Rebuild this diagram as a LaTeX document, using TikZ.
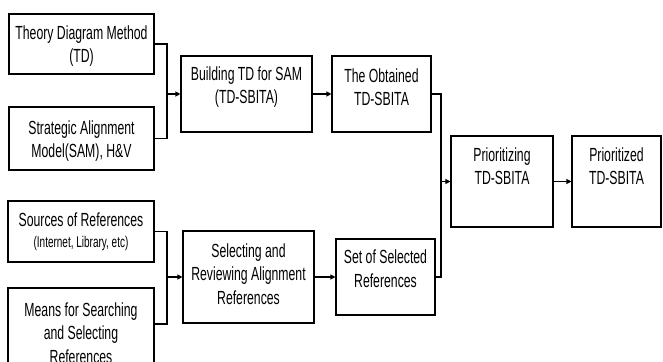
\documentclass[tikz,border=0pt]{standalone}
\usepackage{fontspec}
\setmainfont{Liberation Sans}[FakeStretch=0.645]
\usetikzlibrary{arrows.meta}
\begin{document}
\begin{tikzpicture}[x=1pt,y=-1pt,
  box/.style={draw, line width=1.1pt, inner sep=0pt},
  txt/.style={align=center, inner sep=0pt, font=\fontsize{19}{23.5}\selectfont},
  small/.style={font=\fontsize{15.5}{17}\selectfont},
  conn/.style={line width=1.1pt},
  arr/.style={line width=1.1pt, -{Triangle[length=5pt,width=5pt]}}]
\useasboundingbox (0,0) rectangle (663,361);
\clip (0,0) rectangle (663,361);
% boxes
\node[box, minimum width=145pt, minimum height=60pt] (A) at (81.5,44) {};
\node[box, minimum width=145pt, minimum height=63pt] (B) at (81.5,138.5) {};
\node[box, minimum width=131pt, minimum height=76pt] (C) at (246.5,94) {};
\node[box, minimum width=99pt, minimum height=76pt] (D) at (381.5,94) {};
\node[box, minimum width=146pt, minimum height=61pt] (E) at (81,231.5) {};
\node[box, minimum width=146pt, minimum height=92pt] (F) at (81,334) {};
\node[box, minimum width=131pt, minimum height=92pt] (G) at (248.5,277) {};
\node[box, minimum width=99pt, minimum height=76pt] (H) at (385.5,277) {};
\node[box, minimum width=102pt, minimum height=91pt] (I) at (502,181.5) {};
\node[box, minimum width=89pt, minimum height=91pt] (J) at (616.5,181.5) {};
% texts
\node[txt] (At) at (81.5,46) {Theory Diagram Method\\(TD)};
\node[txt] (Bt) at (81.5,141) {Strategic Alignment\\Model(SAM), H\&V};
\node[txt] (Ct) at (246.5,87) {Building TD for SAM\\(TD-SBITA)};
\node[txt] (Dt) at (381.5,87) {The Obtained\\TD-SBITA};
\node[txt] (Et1) at (81,219.5) {Sources of References};
\node[txt, small] (Et2) at (81,243) {(Internet, Library, etc)};
\node[txt] (Ft) at (81,333) {Means for Searching\\and Selecting\\References};
\node[txt] (Gt) at (248.5,274) {Selecting and\\Reviewing Alignment\\References};
\node[txt] (Ht) at (385.5,268.5) {Set of Selected\\References};
\node[txt] (It) at (502,166) {Prioritizing\\TD-SBITA};
\node[txt] (Jt) at (616.5,166) {Prioritized\\TD-SBITA};
% connectors
\coordinate (j1) at (167,94);
\draw[conn] (A.east) -| (j1) |- (B.east);
\draw[arr] (j1) -- (C.west);
\draw[arr] (C.east) -- (D.west);
\coordinate (j2) at (167,277);
\draw[conn] (E.east) -| (j2) |- (F.east |- 0,324);
\draw[arr] (j2) -- (G.west);
\draw[arr] (G.east) -- (H.west);
\coordinate (j3) at (441,181.5);
\draw[conn] (D.east) -| (j3) |- (H.east);
\draw[arr] (j3) -- (I.west);
\draw[arr] (I.east) -- (J.west);
\end{tikzpicture}
\end{document}
